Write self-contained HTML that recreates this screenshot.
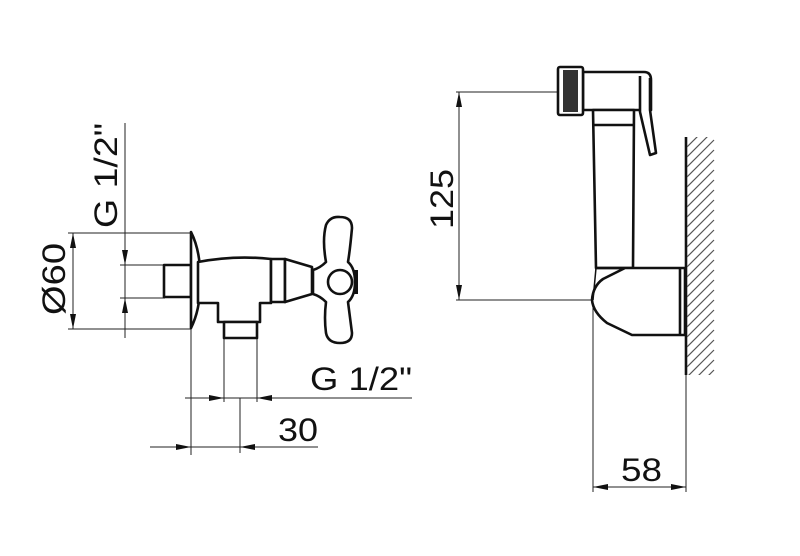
<!DOCTYPE html>
<html><head><meta charset="utf-8"><style>
html,body{margin:0;padding:0;background:#fff;}
svg{display:block;}
text{font-family:"Liberation Sans",sans-serif;fill:#111;}
</style></head><body>
<svg width="800" height="556" viewBox="0 0 800 556" xmlns="http://www.w3.org/2000/svg">
<defs>
<clipPath id="wc"><rect x="687" y="137" width="32" height="238"/></clipPath>
</defs>
<g stroke="#222" stroke-width="1" fill="none">
<!-- left dims -->
<line x1="125" y1="123" x2="125" y2="338"/>
<line x1="120" y1="265" x2="165" y2="265"/>
<line x1="120" y1="298" x2="165" y2="298"/>
<line x1="73" y1="233" x2="73" y2="329"/>
<line x1="68" y1="233" x2="191" y2="233"/>
<line x1="68" y1="329" x2="191" y2="329"/>
<line x1="191" y1="329" x2="191" y2="455"/>
<line x1="224" y1="338" x2="224" y2="402"/>
<line x1="257" y1="338" x2="257" y2="402"/>
<line x1="185" y1="398" x2="412" y2="398"/>
<line x1="240" y1="398" x2="240" y2="453"/>
<line x1="150" y1="447" x2="318" y2="447"/>
<!-- right dims -->
<line x1="456" y1="92" x2="558" y2="92"/>
<line x1="459" y1="92" x2="459" y2="300"/>
<line x1="456" y1="300" x2="593" y2="300"/>
<line x1="593" y1="300" x2="593" y2="492"/>
<line x1="686" y1="375" x2="686" y2="492"/>
<line x1="593" y1="487" x2="686" y2="487"/>
</g>
<g fill="#111">
<polygon points="125,265 122,250 128,250"/>
<polygon points="125,298 122,313 128,313"/>
<polygon points="73,233 70,248 76,248"/>
<polygon points="73,329 70,314 76,314"/>
<polygon points="224,398 209,395 209,401"/>
<polygon points="257,398 272,395 272,401"/>
<polygon points="191,447 176,444 176,450"/>
<polygon points="240,447 255,444 255,450"/>
<polygon points="459,92 456,107 462,107"/>
<polygon points="459,300 456,285 462,285"/>
<polygon points="593,487 608,484 608,490"/>
<polygon points="686,487 671,484 671,490"/>
</g>
<!-- valve -->
<g stroke="#111" stroke-width="2.6" fill="#fff" stroke-linejoin="round">
<rect x="164" y="265" width="27" height="32"/>
<path d="M191,232 Q201,252 200,280 Q201,308 191,328 Z"/>
<path d="M198,262 Q235,255 271,259 L271,303 L260,303 L260,322 L218,322 L218,303 L198,303 Z"/>
<rect x="224" y="322" width="33" height="16"/>
<rect x="271" y="259" width="14" height="43"/>
<path d="M285,259 L312,267 L312,294 L285,302 Z"/>
<path d="M313,270 Q320,268 326,262 Q322,240 326,225 Q330,216 340,217 Q352,217 352,228 Q350,250 348,262 Q355,268 355,282 Q355,296 348,302 Q350,318 352,333 Q352,343 340,343 Q328,343 326,333 Q324,318 326,302 Q320,296 313,294 Z"/>
<circle cx="340" cy="282" r="12"/>
<line x1="356" y1="270" x2="356" y2="294" stroke-width="4"/>
</g>
<!-- sprayer -->
<g stroke="#111" stroke-width="2.6" fill="#fff" stroke-linejoin="round">
<path d="M583,72 L644,72 Q651,72 651,80 L651,110 L593,110 L583,110 Z"/>
<path d="M593,110 L634,110 L633,268 L596,268 Z"/>
<line x1="594" y1="125" x2="634" y2="125"/>
<path d="M640,76 L640,112 L650,155 L656,153 L650,110 L650,78"/>
<rect x="558" y="67" width="25" height="48" rx="2"/>
<path d="M595,268 L685,268 L685,335 L632,335 L607,323 Q593,312 592,300 Q593,286 603,279 L625,268"/>
<line x1="680" y1="268" x2="680" y2="335"/>
<line x1="596" y1="268" x2="593" y2="300" stroke-width="1.5"/>
</g>
<rect x="563" y="70" width="15" height="42" fill="#333"/>
<line x1="686" y1="137" x2="686" y2="375" stroke="#111" stroke-width="2.6"/>
<g clip-path="url(#wc)" stroke="#555" stroke-width="1.2">
<line x1="687" y1="147" x2="714" y2="120"/><line x1="687" y1="157" x2="714" y2="130"/><line x1="687" y1="167" x2="714" y2="140"/><line x1="687" y1="177" x2="714" y2="150"/><line x1="687" y1="187" x2="714" y2="160"/><line x1="687" y1="197" x2="714" y2="170"/><line x1="687" y1="207" x2="714" y2="180"/><line x1="687" y1="217" x2="714" y2="190"/><line x1="687" y1="227" x2="714" y2="200"/><line x1="687" y1="237" x2="714" y2="210"/><line x1="687" y1="247" x2="714" y2="220"/><line x1="687" y1="257" x2="714" y2="230"/><line x1="687" y1="267" x2="714" y2="240"/><line x1="687" y1="277" x2="714" y2="250"/><line x1="687" y1="287" x2="714" y2="260"/><line x1="687" y1="297" x2="714" y2="270"/><line x1="687" y1="307" x2="714" y2="280"/><line x1="687" y1="317" x2="714" y2="290"/><line x1="687" y1="327" x2="714" y2="300"/><line x1="687" y1="337" x2="714" y2="310"/><line x1="687" y1="347" x2="714" y2="320"/><line x1="687" y1="357" x2="714" y2="330"/><line x1="687" y1="367" x2="714" y2="340"/><line x1="687" y1="377" x2="714" y2="350"/><line x1="687" y1="387" x2="714" y2="360"/><line x1="687" y1="397" x2="714" y2="370"/>
</g>
<!-- labels -->
<text x="0" y="0" font-size="32" transform="translate(117,228) rotate(-90)" textLength="105" lengthAdjust="spacingAndGlyphs">G 1/2"</text>
<text x="0" y="0" font-size="32" transform="translate(65,315) rotate(-90)" textLength="72" lengthAdjust="spacingAndGlyphs">Ø60</text>
<text x="310" y="390" font-size="32" textLength="102" lengthAdjust="spacingAndGlyphs">G 1/2"</text>
<text x="278" y="441" font-size="32" textLength="40" lengthAdjust="spacingAndGlyphs">30</text>
<text x="0" y="0" font-size="32" transform="translate(453,229) rotate(-90)" textLength="60" lengthAdjust="spacingAndGlyphs">125</text>
<text x="621" y="481" font-size="32" textLength="41" lengthAdjust="spacingAndGlyphs">58</text>
</svg>
</body></html>
